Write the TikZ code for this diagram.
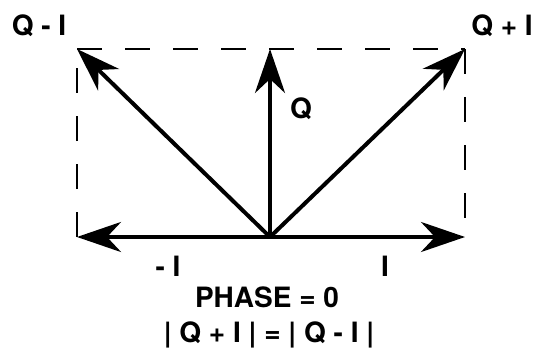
\documentclass[tikz,border=0pt]{standalone}
\usepackage{fontspec}
\setmainfont{TeX Gyre Heros}
\usetikzlibrary{arrows.meta}

\tikzset{
  vec/.style={line width=4pt, -{Stealth[length=44pt, width=30pt, inset=14pt]}},
  frame/.style={line width=2pt, dash pattern=on 25pt off 23pt},
  lbl/.style={font=\fontsize{28}{30}\selectfont\bfseries, inner sep=0pt}
}

\begin{document}
\begin{tikzpicture}[x=1pt, y=-1pt]
    \useasboundingbox (0,0) rectangle (537,350);
    \coordinate (O) at (270,237);
    \coordinate (QmI) at (77,49);
    \coordinate (QpI) at (465,49);
    \coordinate (Qtip) at (270,49);
    \coordinate (Ineg) at (77,237);
    \coordinate (Ipos) at (465,237);
    \coordinate (Rend) at (465,218);
    % dashed box
    \draw[frame] (QmI) -- (QpI);
    \draw[frame] (QpI) -- (Rend);
    \draw[frame] (Ineg) -- (QmI);
    % vectors
    \draw[vec] (O) -- (QmI);
    \draw[vec] (O) -- (Qtip);
    \draw[vec] (O) -- (QpI);
    \draw[vec] (O) -- (Ineg);
    \draw[vec] (O) -- (Ipos);
    % labels
    \node[lbl] (lQmI) at (39,26) {Q - I};
    \node[lbl] (lQpI) at (502,26) {Q + I};
    \node[lbl] (lQ) at (301,109) {Q};
    \node[lbl] (lIneg) at (168,266) {- I};
    \node[lbl] (lIpos) at (385,266) {I};
    \node[lbl] (lphase) at (267,297) {PHASE = 0};
    \node[lbl] (lmag) at (269,335) {| Q + I | = | Q - I |};
\end{tikzpicture}
\end{document}
